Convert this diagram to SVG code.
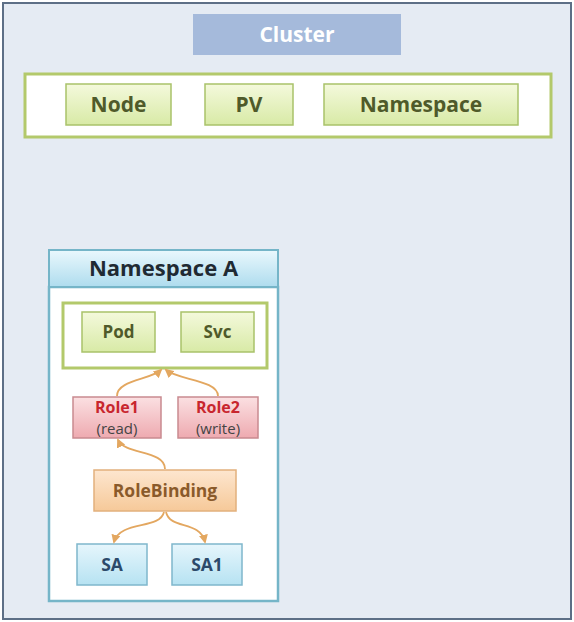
<svg xmlns="http://www.w3.org/2000/svg" width="574" height="622" viewBox="0 0 574 622">
<defs>
<linearGradient id="gGreen" x1="0" y1="0" x2="0" y2="1"><stop offset="0" stop-color="#f4f9dc"/><stop offset="1" stop-color="#d8eaa6"/></linearGradient>
<linearGradient id="gRed" x1="0" y1="0" x2="0" y2="1"><stop offset="0" stop-color="#fbe0e2"/><stop offset="1" stop-color="#eeaab0"/></linearGradient>
<linearGradient id="gOrange" x1="0" y1="0" x2="0" y2="1"><stop offset="0" stop-color="#fde6cf"/><stop offset="1" stop-color="#f6c999"/></linearGradient>
<linearGradient id="gBlue" x1="0" y1="0" x2="0" y2="1"><stop offset="0" stop-color="#e6f6fc"/><stop offset="1" stop-color="#b6e2f2"/></linearGradient>
<linearGradient id="gHead" x1="0" y1="0" x2="0" y2="1"><stop offset="0" stop-color="#eaf8fd"/><stop offset="1" stop-color="#aedcee"/></linearGradient>
<marker id="arr" viewBox="0 0 10 10" refX="8" refY="5" markerWidth="5" markerHeight="5" orient="auto"><path d="M0,0 L10,5 L0,10 z" fill="#e3a760"/></marker>
</defs>
<style>
.gn{fill:url(#gGreen);stroke:#a9c26a;stroke-width:1.5}
.rd{fill:url(#gRed);stroke:#c98a90;stroke-width:1.5}
.or{fill:url(#gOrange);stroke:#e2b07c;stroke-width:1.5}
.bl{fill:url(#gBlue);stroke:#7fb7cc;stroke-width:1.5}
text{font-family:"Open Sans","Noto Sans","DejaVu Sans",sans-serif;font-weight:bold;text-anchor:middle}
text.sub{font-weight:normal;font-size:15px;fill:#444}
text.rt{font-size:16px;fill:#c8262e}
.tg{fill:#4f5a2a;font-size:21px}
.ts{fill:#4f5a2a;font-size:17px}
.conn path{fill:none;stroke:#e3a760;stroke-width:1.8;marker-end:url(#arr)}
</style>
<rect x="3" y="3" width="568" height="616" fill="#e5ebf3" stroke="#5d6f86" stroke-width="2"/>
<g id="cluster"><rect x="193" y="14" width="208" height="41" fill="#a5badb"/><text x="297" y="42" font-size="21" fill="#ffffff">Cluster</text></g>
<g id="cluster-resources"><rect x="25" y="74" width="526" height="63" fill="#ffffff" stroke="#b3c96b" stroke-width="3"/></g>
<g id="node"><rect class="gn" x="66" y="84" width="105" height="41"/><text class="tg" x="118.5" y="112">Node</text></g>
<g id="pv"><rect class="gn" x="205" y="84" width="88" height="41"/><text class="tg" x="249" y="112">PV</text></g>
<g id="namespace"><rect class="gn" x="324" y="84" width="194" height="41"/><text class="tg" x="421" y="112">Namespace</text></g>
<g id="namespace-a">
<rect x="49" y="287" width="229" height="314" fill="#ffffff" stroke="#75b5c8" stroke-width="2.5"/>
<rect x="49" y="250" width="229" height="37" fill="url(#gHead)" stroke="#75b5c8" stroke-width="2"/>
<text x="163.5" y="276" font-size="22" fill="#1f2a33">Namespace A</text>
</g>
<g id="workloads"><rect x="63" y="303" width="204" height="65" fill="#ffffff" stroke="#b3c96b" stroke-width="3"/></g>
<g id="pod"><rect class="gn" x="82" y="312" width="73" height="40"/><text class="ts" x="118.5" y="338">Pod</text></g>
<g id="svc"><rect class="gn" x="181" y="312" width="73" height="40"/><text class="ts" x="217.5" y="338">Svc</text></g>
<g id="role1"><rect class="rd" x="73" y="397" width="88" height="41"/><text class="rt" x="117" y="413">Role1</text><text class="sub" x="117" y="434">(read)</text></g>
<g id="role2"><rect class="rd" x="178" y="397" width="80" height="41"/><text class="rt" x="218" y="413">Role2</text><text class="sub" x="218" y="434">(write)</text></g>
<g id="rolebinding"><rect class="or" x="94" y="470" width="142" height="41"/><text x="165" y="497" font-size="17.5" fill="#8a5a2a">RoleBinding</text></g>
<g id="sa"><rect class="bl" x="77" y="544" width="70" height="41"/><text x="112" y="571" font-size="17.5" fill="#2c4a6a">SA</text></g>
<g id="sa1"><rect class="bl" x="172" y="544" width="70" height="41"/><text x="207" y="571" font-size="17.5" fill="#2c4a6a">SA1</text></g>
<g class="conn">
<path d="M117,396 C117,380 150,380 161,370"/>
<path d="M218,396 C218,380 178,380 166,370"/>
<path d="M165,469 C165,450 125,455 118,440"/>
<path d="M164,512 C160,530 120,520 114,542"/>
<path d="M166,512 C170,530 200,520 205,542"/>
</g>
</svg>
